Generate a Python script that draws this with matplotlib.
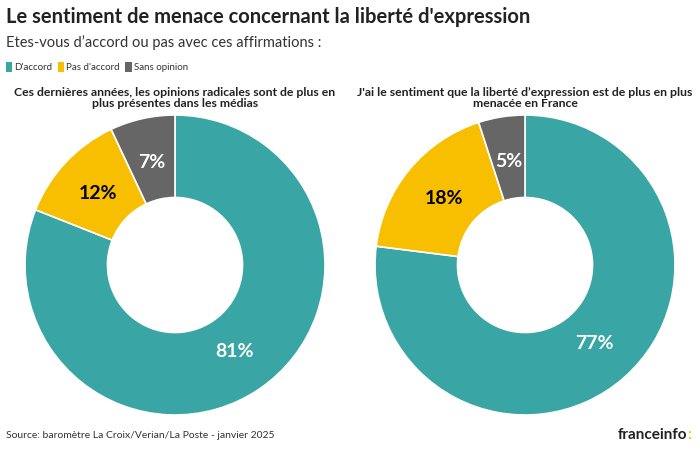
import matplotlib
matplotlib.use("Agg")
import matplotlib.pyplot as plt
from matplotlib.patches import Rectangle

plt.rcParams['font.family'] = ['Lato', 'DejaVu Sans']

categories = ["D'accord", "Pas d'accord", "Sans opinion"]
colors = ["#3aa5a5", "#f7bf00", "#666666"]
text_colors = ["white", "black", "white"]

left_title = "Ces dernières années, les opinions radicales sont de plus en\nplus présentes dans les médias"
left_values = [81, 12, 7]
right_title = "J'ai le sentiment que la liberté d\u2019expression est de plus en plus\nmenacée en France"
right_values = [77, 18, 5]

fig = plt.figure(figsize=(7, 4.5), dpi=100)
fig.patch.set_facecolor("white")

def donut(rect, values, title):
    ax = fig.add_axes(rect)
    wedges, texts, autotexts = ax.pie(
        values, colors=colors, startangle=90, counterclock=False,
        radius=1.0, autopct="%d%%", pctdistance=0.7,
        wedgeprops=dict(width=0.55, edgecolor="white", linewidth=1.2))
    for t, c in zip(autotexts, text_colors):
        t.set_color(c)
        t.set_fontsize(14)
        t.set_fontweight("bold")
    ax.set_xlim(-1, 1)
    ax.set_ylim(-1, 1)
    ax.set_aspect("equal")
    ax.axis("off")
    cx = rect[0] + rect[2] / 2
    fig.text(cx, 0.782, title, ha="center", va="center", fontsize=8.8,
             fontweight="bold", color="#222222", linespacing=0.95)

donut([25 / 700, 35 / 450, 300 / 700, 300 / 450], left_values, left_title)
donut([375 / 700, 35 / 450, 300 / 700, 300 / 450], right_values, right_title)

fig.text(0.008, 0.962, "Le sentiment de menace concernant la liberté d'expression",
         fontsize=14.5, fontweight="bold", color="#222222", va="center")
fig.text(0.008, 0.905, "Etes-vous d\u2019accord ou pas avec ces affirmations :",
         fontsize=10.5, color="#333333", va="center")

# legend
lx = 0.008
ly = 0.851
for name, col in zip(categories, colors):
    fig.patches.append(Rectangle((lx, ly - 0.011), 0.009, 0.022, transform=fig.transFigure,
                                 facecolor=col, edgecolor="none"))
    t = fig.text(lx + 0.012, ly, name, fontsize=7, color="#333333", va="center")
    fig.canvas.draw()
    bb = t.get_window_extent().transformed(fig.transFigure.inverted())
    lx = bb.x1 + 0.008

fig.text(0.008, 0.033, "Source: baromètre La Croix/Verian/La Poste - janvier 2025",
         fontsize=7.5, color="#333333", va="center")
fig.text(0.982, 0.033, "franceinfo", fontsize=11, fontweight="bold",
         color="#222222", va="center", ha="right")
fig.text(0.982, 0.033, ":", fontsize=11, fontweight="bold",
         color="#f7bf00", va="center", ha="left")

fig.savefig("out.png", dpi=100)
